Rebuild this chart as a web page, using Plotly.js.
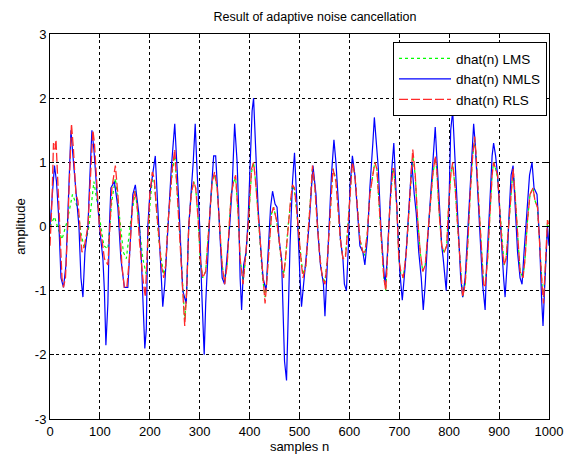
<!DOCTYPE html>
<html>
<head>
<meta charset="utf-8">
<script src="https://cdn.plot.ly/plotly-3.0.1.min.js"></script>
<style>html,body{margin:0;padding:0;background:#fff;}#chart{width:565px;height:459px;}</style>
</head>
<body>
<div id="chart"></div>
<script>
// LMS estimate (green dotted)
const xLMS = [0,9,15,24,35,45,55,62,69,78,88,94,100,108,116,124,131,136,140,147,153,162,171,176,180,186,193,197,200,205,209,213,218,223,228,232,236,241,245,250,253,258,263,266,270,274,278,283,288,292,297,301,306,312,316,321,325,330,335,340,345,350,355,359,363,368,372,377,381,387,392,397,400,404,408,412,417,422,426,431,434,439,444,448,454,459,464,468,472,477,482,486,490,495,499,504,507,513,517,522,526,531,535,541,546,551,556,560,564,567,573,577,582,587,592,597,601,606,611,616,621,627,631,636,641,647,651,655,660,665,669,673,676,681,687,689,695,699,703,708,714,719,723,727,732,736,742,747,752,756,762,767,772,775,780,785,790,795,798,803,807,812,817,822,827,832,837,842,847,851,854,859,864,869,872,877,881,886,889,893,897,901,906,910,914,919,924,928,932,937,942,948,952,957,962,968,972,977,982,986,989,994,997,1000];
const yLMS = [0.0,0.15,0.0,-0.2,0.1,0.5,0.3,-0.1,-0.35,0.0,0.7,0.4,0.1,-0.3,-0.35,0.4,0.75,0.4,0.1,-0.4,-0.5,0.1,0.55,0.2,-0.1,-0.5,-0.75,-0.2,0.3,0.75,0.7,0.3,-0.2,-0.5,-0.75,-0.6,0.0,0.5,0.85,1.1,0.8,0.2,-0.5,-0.9,-1.45,-1.0,0.0,0.5,0.7,0.6,0.1,-0.5,-0.8,-0.7,-0.3,0.3,0.7,0.8,0.6,0.0,-0.6,-0.85,-0.6,0.0,0.5,0.7,0.75,0.2,-0.5,-0.85,-0.5,0.0,0.4,0.85,1.0,0.7,0.2,-0.3,-0.8,-1.1,-0.9,-0.3,0.2,0.3,0.1,-0.2,-0.6,-0.75,-0.5,0.0,0.4,0.65,0.55,0.2,-0.2,-0.6,-0.75,-0.6,-0.1,0.4,0.9,0.6,0.1,-0.5,-0.8,-0.85,-0.5,0.0,0.6,0.9,0.75,0.3,-0.2,-0.5,-0.45,0.0,0.5,1.05,0.8,0.3,-0.2,-0.4,-0.45,-0.1,0.5,0.8,1.0,0.9,0.3,-0.4,-0.8,-1.0,-0.5,0.3,0.9,0.85,0.3,-0.5,-0.75,-0.8,-0.4,0.2,0.8,1.1,0.8,0.2,-0.4,-0.7,-0.6,-0.2,0.4,0.8,1.05,0.9,0.2,-0.3,-0.4,-0.3,0.2,0.8,0.95,0.6,0.0,-0.6,-1.1,-0.9,-0.3,0.5,1.1,1.35,1.1,0.4,-0.3,-0.9,-0.9,-0.5,0.1,0.8,1.0,0.9,0.75,0.3,-0.3,-0.6,-0.5,0.0,0.6,0.9,0.5,-0.2,-0.7,-0.8,-0.5,0.1,0.5,0.6,0.4,0.3,-0.5,-0.9,-1.1,-0.5,0.1,0.0];

// NMLS estimate (blue solid)
const xNMLS = [0,5,9,13,17,22,27,32,36,42,46,52,58,62,66,70,76,80,84,88,94,99,106,109,112,116,119,122,129,136,142,149,156,166,171,178,183,186,190,193,196,200,206,211,216,221,226,230,236,243,250,253,258,263,266,273,278,287,291,294,300,304,309,312,316,321,328,332,337,341,345,350,355,360,365,370,375,378,381,384,388,393,397,401,405,408,412,417,422,427,433,437,442,446,451,455,459,464,467,470,474,477,481,486,490,494,497,501,504,509,514,519,524,527,533,537,542,548,551,554,560,564,569,573,577,582,587,590,594,598,601,606,611,616,621,627,631,636,641,647,650,653,658,663,667,671,675,680,685,689,693,698,701,706,712,717,722,725,730,734,739,744,748,752,756,762,767,772,775,780,785,788,794,797,801,803,807,810,814,819,823,827,832,837,842,849,852,857,862,867,872,875,881,886,889,893,897,901,906,909,912,916,920,924,928,932,937,942,946,950,956,961,966,970,976,981,985,988,991,995,997,1000];
const yNMLS = [0.0,0.5,0.95,0.7,0.2,-0.8,-0.95,-0.6,0.2,1.5,1.1,0.5,0.0,-0.8,-1.1,-0.4,0.0,0.8,1.5,1.2,0.6,0.0,-0.5,-1.0,-1.85,-1.2,0.0,0.6,0.7,0.3,-0.5,-0.95,-0.95,0.5,0.65,0.2,-0.5,-1.0,-1.9,-1.6,0.0,0.5,0.85,1.1,0.3,-0.4,-1.25,-0.9,0.0,0.9,1.6,1.2,0.4,-0.5,-1.0,-1.2,0.0,1.0,1.6,1.0,0.0,-1.0,-2.0,-1.2,-0.5,0.3,1.1,1.1,0.4,-0.3,-0.8,-0.9,-0.5,0.0,0.6,1.6,1.0,0.3,-0.8,-1.3,-0.6,-0.4,0.1,1.0,1.8,2.0,1.3,0.3,-0.3,-0.8,-1.0,-0.5,0.3,0.55,0.35,0.3,-0.2,-0.5,-1.5,-2.1,-2.4,-1.3,-0.3,0.7,1.15,0.5,-0.2,-0.8,-1.25,-0.8,-0.4,0.0,0.6,0.95,0.5,-0.1,-0.6,-0.9,-1.4,-0.9,0.0,0.8,1.35,1.0,0.5,-0.2,-0.5,-0.9,-1.0,-0.3,0.6,1.1,0.8,0.2,-0.3,-0.4,-0.6,-0.2,0.6,1.3,1.7,1.4,0.9,0.0,-0.5,-0.9,-0.6,0.2,0.9,1.3,0.6,-0.3,-0.7,-1.15,-0.6,0.0,0.7,1.0,0.5,0.2,-0.4,-0.8,-1.3,-0.9,-0.3,0.4,1.1,1.55,1.1,0.3,-0.3,-0.5,-1.0,-0.5,0.8,1.5,1.8,1.3,0.5,-0.3,-0.8,-1.1,-0.8,-0.1,0.6,1.6,1.3,0.5,-0.3,-0.9,-1.3,-0.6,0.3,1.1,1.3,1.1,0.8,0.2,-0.5,-0.8,-1.1,-0.6,0.2,0.8,0.95,0.3,-0.4,-0.8,-0.9,-0.4,0.3,0.8,1.0,0.6,0.5,-0.2,-1.1,-1.55,-1.0,-0.4,0.0,-0.3];

// RLS estimate (red dashed)
const xRLS = [0,4,7,10,12,14,17,20,24,27,31,35,39,43,47,52,56,60,64,69,76,80,86,89,94,99,104,109,116,120,124,131,136,140,144,149,154,159,165,169,174,179,186,191,196,200,205,209,213,218,223,228,232,236,241,245,250,253,258,263,266,270,274,278,283,288,292,297,301,306,312,316,321,325,330,335,340,345,350,355,359,363,368,372,377,381,387,392,397,400,404,408,412,417,422,426,431,434,439,444,448,454,459,464,468,472,477,482,486,490,495,499,504,507,513,517,522,526,531,535,541,546,551,556,560,564,567,573,577,582,587,592,597,601,606,611,616,621,627,631,636,641,647,651,655,660,665,669,673,676,681,687,689,695,699,703,708,714,719,723,727,732,736,742,747,752,756,762,767,772,775,780,785,790,795,798,803,807,812,817,822,827,832,837,842,847,851,854,859,864,869,872,877,881,886,889,893,897,901,906,910,914,919,924,928,932,937,942,948,952,957,962,968,972,977,982,986,989,994,997,1000];
const yRLS = [-0.3,0.4,1.3,1.2,1.35,1.0,0.4,-0.3,-0.8,-0.95,-0.8,-0.1,0.8,1.6,1.2,0.5,0.4,0.0,-0.4,-0.3,0.0,0.6,1.5,1.3,0.7,0.0,-0.2,-0.5,-0.6,0.0,0.6,0.95,0.5,0.0,-0.6,-0.95,-0.95,-0.5,0.3,0.55,0.4,-0.2,-0.8,-1.1,-0.2,0.5,0.85,0.75,0.3,-0.2,-0.6,-0.8,-0.6,0.0,0.5,0.9,1.2,0.8,0.2,-0.5,-1.0,-1.55,-1.0,0.0,0.5,0.7,0.6,0.1,-0.5,-0.8,-0.7,-0.3,0.3,0.7,0.85,0.6,0.0,-0.6,-0.9,-0.6,0.0,0.5,0.7,0.8,0.2,-0.5,-0.9,-0.5,0.0,0.4,0.9,1.0,0.7,0.2,-0.3,-0.8,-1.2,-0.9,-0.3,0.2,0.3,0.1,-0.2,-0.6,-0.8,-0.5,0.0,0.4,0.65,0.6,0.2,-0.2,-0.6,-0.8,-0.6,-0.1,0.4,0.95,0.6,0.1,-0.5,-0.8,-0.9,-0.5,0.0,0.6,0.9,0.7,0.3,-0.2,-0.5,-0.5,0.0,0.5,1.0,0.8,0.3,-0.2,-0.4,-0.4,-0.1,0.5,0.8,1.0,0.9,0.3,-0.4,-0.8,-1.0,-0.5,0.3,0.9,0.9,0.3,-0.5,-0.7,-0.8,-0.4,0.2,0.8,1.2,0.8,0.2,-0.4,-0.7,-0.6,-0.2,0.4,0.8,1.1,0.9,0.2,-0.3,-0.4,-0.3,0.2,0.8,1.0,0.6,0.0,-0.6,-1.1,-0.9,-0.3,0.5,1.1,1.4,1.1,0.4,-0.3,-0.9,-0.95,-0.5,0.1,0.8,1.0,0.9,0.8,0.3,-0.3,-0.6,-0.5,0.0,0.6,0.9,0.5,-0.2,-0.7,-0.8,-0.5,0.1,0.5,0.6,0.4,0.3,-0.5,-0.9,-1.2,-0.5,0.1,0.0];

const seriesNames = ['dhat(n) LMS', 'dhat(n) NMLS', 'dhat(n) RLS'];
const xTicks = [0,100,200,300,400,500,600,700,800,900,1000];
const yTicks = [-3,-2,-1,0,1,2,3];

const FONT = 'Liberation Sans, Arial, sans-serif';

const traces = [
  {x: xLMS, y: yLMS, name: seriesNames[0], mode: 'lines',
   line: {color: '#00ff00', width: 1.2, dash: 'dot'}},
  {x: xNMLS, y: yNMLS, name: seriesNames[1], mode: 'lines',
   line: {color: '#0000ff', width: 1.2, dash: 'solid'}},
  {x: xRLS, y: yRLS, name: seriesNames[2], mode: 'lines',
   line: {color: '#ff2a2a', width: 1.3, dash: '9px,3px'}}
];

const axisCommon = {
  showgrid: true, gridcolor: '#000000', gridwidth: 1, griddash: '3px,3px',
  showline: true, linecolor: '#000000', linewidth: 1, mirror: 'ticks',
  ticks: 'inside', ticklen: 4, tickcolor: '#000000',
  zeroline: false, tickfont: {family: FONT, size: 13, color: '#000'}
};

const layout = {
  width: 565, height: 459,
  margin: {l: 50, r: 16, t: 34, b: 40},
  paper_bgcolor: '#ffffff', plot_bgcolor: '#ffffff',
  font: {family: FONT, color: '#000'},
  title: {text: 'Result of adaptive noise cancellation', font: {family: FONT, size: 12.5, color: '#000'},
          x: 0.531, xanchor: 'center', y: 0.963, yanchor: 'middle', yref: 'container', xref: 'paper'},
  xaxis: Object.assign({}, axisCommon, {
    range: [0, 1000], tickmode: 'array', tickvals: xTicks, ticktext: xTicks.map(String),
    title: {text: 'samples n', font: {family: FONT, size: 13, color: '#000'}, standoff: 4}
  }),
  yaxis: Object.assign({}, axisCommon, {
    range: [-3, 3], tickmode: 'array', tickvals: yTicks, ticktext: yTicks.map(String),
    title: {text: 'amplitude', font: {family: FONT, size: 13, color: '#000'}, standoff: 6}
  }),
  showlegend: true,
  legend: {x: 0.996, xanchor: 'right', y: 0.979, yanchor: 'top',
           bgcolor: '#ffffff', bordercolor: '#000000', borderwidth: 1,
           font: {family: FONT, size: 13.5, color: '#000'}, itemwidth: 52,
           tracegroupgap: 0}
};

Plotly.newPlot('chart', traces, layout, {displayModeBar: false, staticPlot: true});
</script>
</body>
</html>
